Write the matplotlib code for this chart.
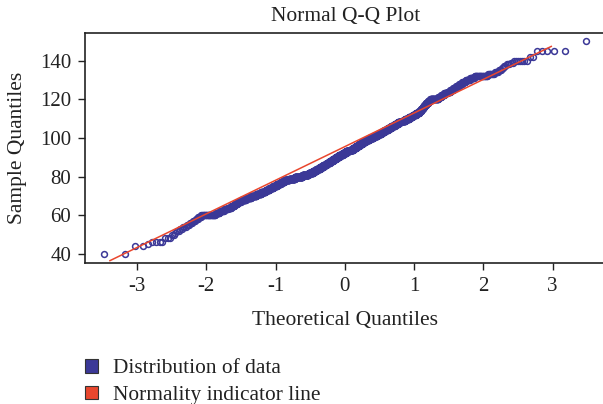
import numpy as np
import matplotlib.pyplot as plt
from matplotlib.patches import Patch
from statistics import NormalDist

# sorted sample values and how many times each one occurs
values = [40, 44, 45, 46, 48, 50, 51, 52, 53, 54, 55, 56, 57, 58, 59,
          60, 61, 62, 63, 64, 65, 66, 67, 68, 69, 70, 71, 72, 73, 74,
          75, 76, 77, 78, 79, 80, 81, 82, 83, 84, 85, 86, 87, 88, 89,
          90, 91, 92, 93, 94, 95, 96, 97, 98, 99, 100, 101, 102, 103, 104,
          105, 106, 107, 108, 109, 110, 111, 112, 113, 114, 115, 116, 117, 118, 119,
          120, 121, 122, 123, 124, 125, 126, 127, 128, 129, 130, 131, 132, 133, 134,
          135, 136, 137, 138, 139, 140, 142, 145, 150]
counts = [2, 2, 1, 4, 3, 2, 1, 2, 2, 3, 3, 3, 3, 3, 4,
          24, 9, 10, 10, 10, 10, 10, 12, 20, 22, 26, 26, 25, 24, 25,
          26, 27, 28, 40, 48, 70, 60, 45, 37, 37, 37, 36, 35, 35, 35,
          38, 40, 40, 40, 38, 35, 35, 35, 36, 40, 45, 42, 38, 33, 33,
          33, 31, 29, 29, 29, 30, 25, 24, 22, 12, 10, 10, 10, 12, 12,
          40, 13, 13, 13, 10, 10, 10, 9, 9, 9, 10, 10, 22, 8, 4,
          3, 2, 2, 3, 2, 7, 2, 5, 1]

# reference line as drawn in the chart
line_intercept = 95.5
line_slope = 17.4
line_range = [-3.39, 2.98]

navy = '#3B3897'
red = '#E9472E'

plt.rcParams['font.family'] = ['Liberation Serif', 'DejaVu Serif']
plt.rcParams['axes.unicode_minus'] = False

sample = np.repeat(values, counts).astype(float)
n = len(sample)
# R style plotting positions (i - 0.5) / n
nd = NormalDist()
theo = np.array([nd.inv_cdf((i - 0.5) / n) for i in range(1, n + 1)])

fig = plt.figure(figsize=(6.03, 4.04), dpi=100)
ax = fig.add_axes([85 / 603, 141 / 404, 521 / 603, 230.4 / 404])

ax.plot(theo, sample, 'o', mfc='none', mec=navy, ms=4.2, mew=1.1, zorder=2)
lq = np.array(line_range)
ax.plot(lq, line_intercept + line_slope * lq, color=red, lw=1.1, zorder=3)

ax.set_xlim(-3.75, 3.77)
ax.set_ylim(35.3, 154.5)
ax.set_xticks([-3, -2, -1, 0, 1, 2, 3])
ax.set_yticks([40, 60, 80, 100, 120, 140])
ax.tick_params(direction='out', length=5, width=1, labelsize=15, pad=5, colors='#222222')
for s in ['left', 'bottom', 'top']:
    ax.spines[s].set_linewidth(1.2)
    ax.spines[s].set_color('#222222')
ax.spines['right'].set_visible(False)

ax.set_title("Normal Q-Q Plot", fontsize=15.5, pad=8, color='#222222')
ax.set_xlabel("Theoretical Quantiles", fontsize=15.5, labelpad=11, color='#222222')
ax.set_ylabel("Sample Quantiles", fontsize=15.5, labelpad=9, color='#222222')

handles = [Patch(facecolor=navy, edgecolor='#333333', lw=0.8),
           Patch(facecolor=red, edgecolor='#333333', lw=0.8)]
fig.legend(handles, ["Distribution of data", "Normality indicator line"],
           loc='upper left', bbox_to_anchor=(85 / 603, 1 - 359 / 404),
           frameon=False, fontsize=15.4, handlelength=0.6, handleheight=0.6,
           handletextpad=0.7, labelspacing=0.35, borderaxespad=0, borderpad=0,
           labelcolor='#222222')

fig.savefig('out.png', dpi=100)
